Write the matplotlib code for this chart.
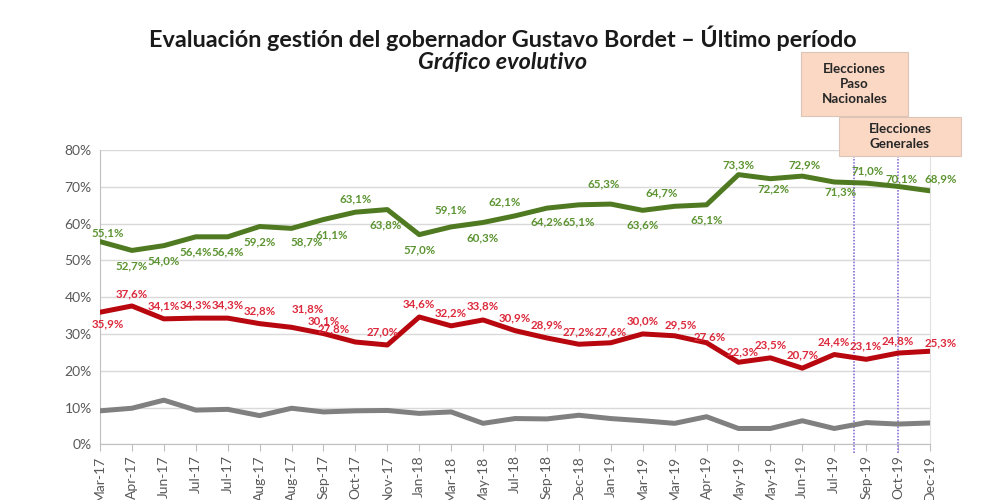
import matplotlib
matplotlib.use("Agg")
import matplotlib.pyplot as plt
from matplotlib.patches import Rectangle

plt.rcParams['font.family'] = ['Lato', 'DejaVu Sans']

# datos
meses = ["Mar-17", "Apr-17", "Jun-17", "Jul-17", "Jul-17", "Aug-17", "Aug-17", "Sep-17",
         "Oct-17", "Nov-17", "Jan-18", "Mar-18", "May-18", "Jul-18", "Sep-18", "Dec-18",
         "Jan-19", "Mar-19", "Mar-19", "Apr-19", "May-19", "May-19", "Jun-19", "Jul-19",
         "Sep-19", "Oct-19", "Dec-19"]
positiva = [55.1, 52.7, 54.0, 56.4, 56.4, 59.2, 58.7, 61.1, 63.1, 63.8, 57.0, 59.1, 60.3, 62.1,
            64.2, 65.1, 65.3, 63.6, 64.7, 65.1, 73.3, 72.2, 72.9, 71.3, 71.0, 70.1, 68.9]
negativa = [35.9, 37.6, 34.1, 34.3, 34.3, 32.8, 31.8, 30.1, 27.8, 27.0, 34.6, 32.2, 33.8, 30.9,
            28.9, 27.2, 27.6, 30.0, 29.5, 27.6, 22.3, 23.5, 20.7, 24.4, 23.1, 24.8, 25.3]
ns_nc = [9.1, 9.8, 12.0, 9.3, 9.5, 7.8, 9.8, 8.8, 9.1, 9.2, 8.4, 8.8, 5.7, 7.0,
         6.9, 7.9, 7.0, 6.4, 5.7, 7.5, 4.3, 4.3, 6.4, 4.3, 5.9, 5.5, 5.8]
# posicion de las elecciones (en indices del eje x)
elecciones_x = [23.62, 25.0]

# desplazamiento de etiquetas en pixeles (dx, dy)
off_verde = [(8, 9), (0, -15), (0, -15), (0, -15), (0, -15), (0, -15), (15, -13), (8, -15),
             (0, 13), (-2, -15), (0, -15), (0, 17), (0, -15), (-10, 14), (0, -14), (0, -17),
             (-7, 20), (0, -15), (-13, 13), (0, -15), (0, 10), (3, -10), (2, 11), (6, -10),
             (1, 12), (4, 8), (11, 12)]
off_rojo = [(8, -12), (0, 12), (0, 13), (0, 13), (0, 13), (0, 13), (16, 18), (0, 13),
            (-22, 13), (-5, 13), (0, 13), (0, 13), (0, 14), (0, 13), (0, 13), (0, 12),
            (0, 11), (0, 13), (6, 11), (3, 6), (4, 10), (0, 13), (0, 13), (0, 13),
            (0, 13), (0, 12), (11, 8)]

VERDE = "#4f7a21"
VERDE_TXT = "#5c9431"
ROJO = "#b8070f"
ROJO_TXT = "#dc2a3c"
GRIS = "#808080"

fig = plt.figure(figsize=(10, 5), dpi=100)
ax = fig.add_axes([0.1, 0.1114, 0.83, 0.5886])

x = list(range(len(meses)))
for serie, col in [(positiva, VERDE), (negativa, ROJO), (ns_nc, GRIS)]:
    ax.plot(x, serie, color=col, lw=3.6, solid_joinstyle='round', solid_capstyle='round', zorder=3)

for i in x:
    ax.annotate(f"{positiva[i]:.1f}%".replace(".", ","), (i, positiva[i]),
                xytext=off_verde[i], textcoords='offset pixels', ha='center', va='center',
                fontsize=8.3, fontweight='bold', color=VERDE_TXT, zorder=4)
    ax.annotate(f"{negativa[i]:.1f}%".replace(".", ","), (i, negativa[i]),
                xytext=off_rojo[i], textcoords='offset pixels', ha='center', va='center',
                fontsize=8.3, fontweight='bold', color=ROJO_TXT, zorder=4)

ax.set_xlim(0, len(meses) - 1)
ax.set_ylim(0, 80)
ax.set_yticks(range(0, 81, 10))
ax.set_yticklabels([f"{v}%" for v in range(0, 81, 10)])
ax.set_xticks(x)
ax.set_xticklabels(meses, rotation=90)
ax.tick_params(axis='both', colors='#595959', labelsize=10)
ax.tick_params(axis='y', length=0, pad=6)
ax.tick_params(axis='x', length=5, color='#bfbfbf', pad=3)
ax.grid(axis='y', color='#d9d9d9', lw=1)
ax.set_axisbelow(True)
for s in ['left', 'bottom']:
    ax.spines[s].set_color('#bfbfbf')
ax.spines['right'].set_color('#e0e0e0')
ax.spines['top'].set_visible(False)

# lineas de elecciones
for xe in elecciones_x:
    ax.plot([xe, xe], [-0.03, 0.98], transform=ax.get_xaxis_transform(), clip_on=False,
            color='#9a80d8', lw=1.4, ls=(0, (0.8, 0.8)), zorder=2)

# cuadros
fig.add_artist(Rectangle((0.801, 0.768), 0.107, 0.128, transform=fig.transFigure,
                         facecolor='#fad8c4', edgecolor='#dcc5b6', lw=0.8))
fig.text(0.8545, 0.832, "Elecciones\nPaso\nNacionales", ha='center', va='center',
         fontsize=9.6, fontweight='bold', color='#262626', linespacing=1.3)
fig.add_artist(Rectangle((0.839, 0.688), 0.122, 0.078, transform=fig.transFigure,
                         facecolor='#fad8c4', edgecolor='#dcc5b6', lw=0.8))
fig.text(0.900, 0.727, "Elecciones\nGenerales", ha='center', va='center',
         fontsize=9.6, fontweight='bold', color='#262626', linespacing=1.3)

fig.text(0.503, 0.924, "Evaluación gestión del gobernador Gustavo Bordet – Último período",
         ha='center', va='center', fontsize=16.8, fontweight='bold', color='#1a1a1a')
fig.text(0.503, 0.874, "Gráfico evolutivo", ha='center', va='center', fontsize=16.8,
         fontweight='bold', fontstyle='italic', color='#1a1a1a')

fig.savefig("out.png", dpi=100)
